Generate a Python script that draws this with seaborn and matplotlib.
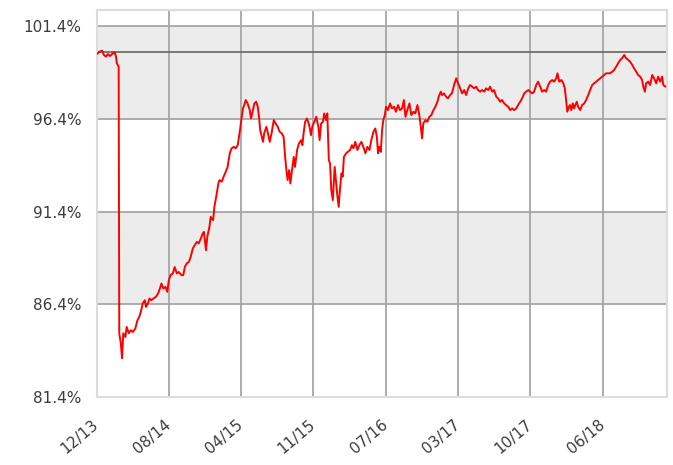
import numpy as np
import pandas as pd
import matplotlib
matplotlib.use("Agg")
import matplotlib.pyplot as plt
from matplotlib.patches import Rectangle
import seaborn as sns

# Portfolio value relative to its starting level, in percent
start_date = "2013-12-20"
end_date = "2019-01-17"
day_offsets = [
    2, 9, 18, 24, 31, 37, 44, 53, 59, 63, 66, 71, 72, 74, 79, 83, 87, 94, 98, 105,
    111, 118, 126, 133, 139, 144, 150, 157, 161, 167, 172, 178, 185, 193, 200, 206, 211, 217, 224, 230,
    235, 241, 248, 254, 261, 267, 276, 282, 287, 293, 300, 306, 313, 319, 326, 332, 339, 345, 349, 352,
    356, 360, 367, 371, 374, 379, 383, 389, 396, 400, 407, 413, 420, 426, 433, 439, 446, 452, 459, 463,
    467, 472, 476, 480, 485, 491, 498, 502, 506, 513, 519, 524, 528, 532, 537, 541, 545, 552, 556, 563,
    569, 576, 582, 589, 595, 602, 608, 613, 617, 621, 626, 630, 634, 641, 645, 652, 658, 665, 669, 673,
    678, 684, 691, 697, 701, 708, 714, 721, 725, 730, 736, 740, 746, 750, 755, 759, 763, 768, 774, 778,
    783, 787, 791, 796, 800, 804, 811, 817, 824, 830, 835, 841, 848, 854, 861, 867, 874, 880, 887, 893,
    900, 906, 911, 915, 919, 924, 928, 932, 937, 941, 947, 954, 960, 967, 973, 980, 986, 993, 999, 1004,
    1010, 1017, 1023, 1030, 1036, 1043, 1049, 1054, 1058, 1062, 1069, 1075, 1082, 1088, 1095, 1101, 1108, 1112, 1119, 1123,
    1129, 1136, 1142, 1149, 1155, 1162, 1169, 1175, 1182, 1188, 1195, 1201, 1208, 1214, 1221, 1227, 1234, 1240, 1247, 1253,
    1260, 1266, 1273, 1279, 1286, 1292, 1299, 1305, 1312, 1318, 1325, 1331, 1338, 1344, 1351, 1357, 1364, 1370, 1377, 1383,
    1390, 1396, 1403, 1409, 1416, 1422, 1429, 1435, 1442, 1448, 1455, 1461, 1468, 1474, 1481, 1487, 1494, 1498, 1504, 1511,
    1517, 1522, 1526, 1530, 1535, 1539, 1543, 1548, 1552, 1556, 1561, 1565, 1572, 1578, 1585, 1591, 1598, 1604, 1611, 1617,
    1624, 1630, 1637, 1643, 1650, 1656, 1663, 1669, 1676, 1682, 1689, 1695, 1702, 1708, 1715, 1721, 1728, 1734, 1741, 1747,
    1754, 1760, 1767, 1773, 1777, 1782, 1786, 1793, 1799, 1806, 1812, 1819, 1825, 1832, 1838, 1842, 1849,
]
values = [
    99.89, 100.01, 100.07, 99.84, 99.75, 99.89, 99.78, 99.93, 99.98, 99.78, 99.39, 99.24, 99.21, 84.83, 84.31, 83.50, 84.85, 84.65, 85.19, 84.85,
    85.01, 84.92, 85.10, 85.55, 85.73, 86.00, 86.45, 86.63, 86.27, 86.45, 86.72, 86.63, 86.72, 86.81, 86.99, 87.26, 87.53, 87.26, 87.35, 87.08,
    87.71, 87.98, 88.07, 88.42, 88.07, 88.15, 87.98, 87.98, 88.42, 88.61, 88.69, 88.96, 89.42, 89.59, 89.77, 89.69, 89.95, 90.22, 90.31, 89.86,
    89.32, 90.04, 90.58, 91.12, 91.03, 90.94, 91.66, 92.20, 92.92, 93.10, 93.01, 93.28, 93.55, 93.81, 94.54, 94.81, 94.89, 94.81, 94.98, 95.43,
    95.88, 96.51, 96.96, 97.14, 97.41, 97.23, 96.87, 96.42, 96.69, 97.23, 97.32, 97.05, 96.51, 95.79, 95.43, 95.16, 95.62, 95.97, 95.70, 95.16,
    95.62, 96.33, 96.15, 95.97, 95.70, 95.62, 95.43, 94.35, 93.64, 93.10, 93.64, 92.92, 93.46, 94.35, 93.81, 94.72, 95.08, 95.25, 94.98, 95.62,
    96.24, 96.42, 96.06, 95.52, 95.97, 96.24, 96.51, 95.97, 95.25, 96.15, 96.24, 96.69, 96.33, 96.69, 94.18, 94.00, 92.56, 92.02, 93.81, 93.10,
    92.20, 91.66, 92.56, 93.46, 93.28, 94.35, 94.54, 94.62, 94.72, 94.98, 94.81, 95.16, 94.72, 94.98, 95.16, 94.89, 94.54, 94.89, 94.72, 95.25,
    95.70, 95.88, 95.43, 94.54, 94.89, 94.62, 95.79, 96.33, 96.60, 97.05, 96.87, 97.23, 96.96, 97.05, 96.78, 97.14, 96.87, 96.96, 97.41, 96.51,
    96.87, 97.23, 96.60, 96.78, 96.69, 97.14, 96.60, 95.97, 95.35, 96.15, 96.33, 96.24, 96.51, 96.60, 96.87, 97.05, 97.32, 97.59, 97.86, 97.68,
    97.77, 97.59, 97.50, 97.68, 97.77, 98.22, 98.58, 98.31, 98.04, 97.77, 97.95, 97.68, 98.04, 98.22, 98.13, 98.04, 98.13, 97.95, 97.86, 97.95,
    97.86, 98.04, 97.95, 98.13, 97.86, 97.95, 97.59, 97.50, 97.32, 97.41, 97.23, 97.14, 97.05, 96.87, 96.96, 96.87, 96.96, 97.14, 97.32, 97.50,
    97.77, 97.86, 97.95, 97.86, 97.77, 97.86, 98.22, 98.40, 98.13, 97.86, 97.95, 97.86, 98.22, 98.40, 98.49, 98.40, 98.58, 98.85, 98.40, 98.49,
    98.31, 98.04, 97.41, 96.78, 97.05, 97.14, 96.87, 97.23, 96.96, 97.14, 97.32, 97.05, 96.87, 97.14, 97.23, 97.41, 97.68, 97.95, 98.22, 98.31,
    98.40, 98.49, 98.58, 98.67, 98.76, 98.85, 98.85, 98.85, 98.94, 99.03, 99.21, 99.39, 99.57, 99.66, 99.84, 99.66, 99.57, 99.48, 99.30, 99.12,
    98.94, 98.76, 98.67, 98.49, 98.13, 97.86, 98.31, 98.40, 98.22, 98.76, 98.58, 98.31, 98.67, 98.40, 98.67, 98.22, 98.13,
]

tick_dates = ["2013-12-20", "2014-08-12", "2015-04-04", "2015-11-25",
              "2016-07-17", "2017-03-09", "2017-10-30", "2018-06-22"]
tick_labels = ["12/13", "08/14", "04/15", "11/15", "07/16", "03/17", "10/17", "06/18"]
y_ticks = [81.4, 86.4, 91.4, 96.4, 101.4]
y_top = 102.26
baseline = 100.0

df = pd.DataFrame({
    "date": pd.Timestamp(start_date) + pd.to_timedelta(day_offsets, unit="D"),
    "value": values,
})

sns.set_theme(style="white", rc={"axes.facecolor": "#ffffff",
                                 "figure.facecolor": "#ffffff"})
plt.rcParams["font.family"] = ["DejaVu Sans"]

fig = plt.figure(figsize=(6.73, 4.65), dpi=100)
ax = fig.add_axes([0.1434, 0.1456, 0.8477, 0.8329])
ax.patch.set_facecolor("#ffffff")
ax.patch.set_alpha(1.0)

sns.lineplot(data=df, x="date", y="value", ax=ax, color="#ff0000",
             lw=1.4, zorder=3, legend=False, estimator=None,
             errorbar=None, sort=False)

x0, x1 = pd.Timestamp(start_date), pd.Timestamp(end_date)
ax.set_xlim(x0, x1)
ax.set_ylim(y_ticks[0], y_top)

# white plot background, then grey bands between alternate gridlines
ax.add_patch(Rectangle((0, 0), 1, 1, transform=ax.transAxes,
                       facecolor="#ffffff", edgecolor="none", zorder=0.2))
band_color = "#ececec"
for lo, hi in [(y_ticks[3], y_ticks[4]), (y_ticks[1], y_ticks[2])]:
    ax.add_patch(Rectangle((0, lo), 1, hi - lo, transform=ax.get_yaxis_transform(),
                           facecolor=band_color, edgecolor="none", zorder=0.5))

grid_color = "#a6a6a6"
for y in y_ticks:
    ax.axhline(y, color=grid_color, lw=1.3, zorder=1)
for d in tick_dates:
    ax.axvline(pd.Timestamp(d), color=grid_color, lw=1.3, zorder=1)
ax.axhline(baseline, color="#6e6e6e", lw=1.3, zorder=1)

ax.set_xlim(x0, x1)
ax.set_ylim(y_ticks[0], y_top)

ax.set_yticks(y_ticks)
ax.set_yticklabels([f"{v:.1f}%" for v in y_ticks])
ax.set_xticks([pd.Timestamp(d) for d in tick_dates])
ax.set_xticklabels(tick_labels, rotation=40, ha="right", va="center",
                   rotation_mode="anchor")
ax.tick_params(axis="both", length=0, labelsize=11, colors="#3c3c3c")
ax.tick_params(axis="y", pad=11)
ax.tick_params(axis="x", pad=18)
ax.set_xlabel("")
ax.set_ylabel("")
ax.grid(False)

for s in ax.spines.values():
    s.set_color("#dcdcdc")
    s.set_linewidth(1.5)
    s.set_visible(True)

fig.savefig("out.png", dpi=100, facecolor="#ffffff")
